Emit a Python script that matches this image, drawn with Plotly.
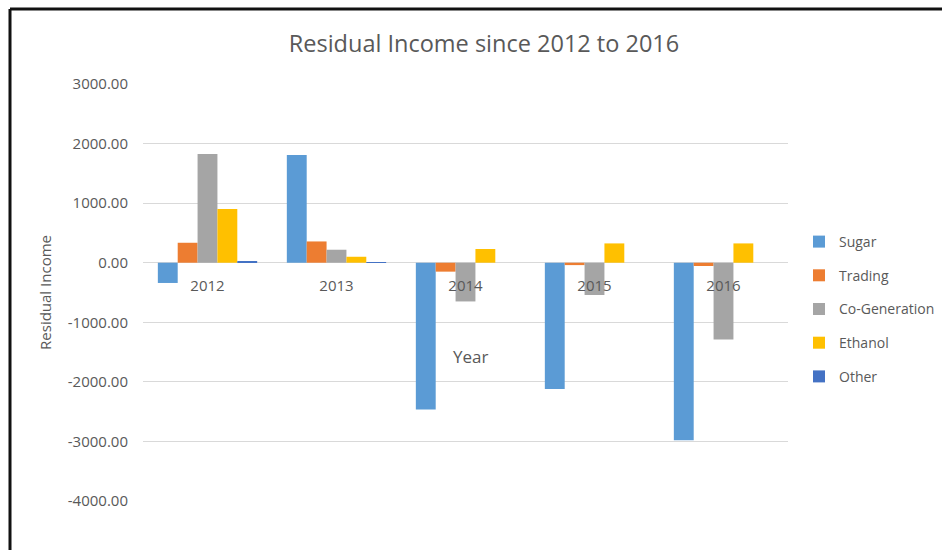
import plotly.graph_objects as go

years = ["2012", "2013", "2014", "2015", "2016"]
series_names = ["Sugar", "Trading", "Co-Generation", "Ethanol", "Other"]
sugar = [-340, 1807, -2466, -2120, -2980]
trading = [335, 357, -150, -40, -55]
cogen = [1824, 218, -650, -542, -1287]
ethanol = [900, 100, 230, 324, 324]
other = [15, 12, 0, 0, 0]
colors = ["#5B9BD5", "#ED7D31", "#A5A5A5", "#FFC000", "#4472C4"]
y_tick_values = [3000, 2000, 1000, 0, -1000, -2000, -3000, -4000]
y_tick_labels = [f"{v:.2f}" for v in y_tick_values]

FONT = "Open Sans"
GREY = "#595959"

fig = go.Figure()
for i, (name, vals) in enumerate(zip(series_names, [sugar, trading, cogen, ethanol, other])):
    fig.add_trace(go.Bar(x=years, y=vals, name=name, marker_color=colors[i],
                         marker_line_width=0, legendgroup=name))

# plot area in pixels: x 143..788, y 84..501
L, R, T, B = 143, 154, 84, 49
W, H = 942, 550
pw, ph = W - L - R, H - T - B

def px_x(p):
    return (p - L) / pw

def px_y(p):
    return (H - B - p) / ph

fig.update_layout(
    width=W, height=H,
    margin=dict(l=L, r=R, t=T, b=B, pad=0, autoexpand=False),
    paper_bgcolor="white", plot_bgcolor="white",
    font=dict(family=FONT, size=14, color=GREY),
    title=dict(text="Residual Income since 2012 to 2016", xref="container", x=484 / W,
               xanchor="center", yref="container", y=1 - 44 / H, yanchor="middle",
               font=dict(size=23.5, color=GREY, family=FONT)),
    barmode="group", bargap=0.23, bargroupgap=0,
    showlegend=True,
    legend=dict(x=px_x(799), xanchor="left", y=px_y(226), yanchor="top",
                font=dict(size=14, color=GREY, family=FONT), tracegroupgap=12.5,
                itemclick=False, bgcolor="rgba(0,0,0,0)"),
    xaxis=dict(anchor="free", position=4 / 7, showgrid=False, showline=False,
               ticks="", ticklabelstandoff=12, tickfont=dict(size=15, color=GREY),
               zeroline=False),
    yaxis=dict(range=[-4000, 3000], tickvals=y_tick_values, ticktext=y_tick_labels,
               showgrid=True,
               gridcolor="#D9D9D9", gridwidth=1, zeroline=True, zerolinecolor="#D9D9D9",
               zerolinewidth=1, showline=False, ticks="", ticklabelstandoff=14,
               tickfont=dict(size=15, color=GREY),
               title=dict(text="Residual Income", standoff=12, font=dict(size=15, color=GREY))),
)

fig.add_annotation(text="Year", xref="paper", x=px_x(470), yref="y", y=-1577,
                   showarrow=False, font=dict(size=17, color=GREY, family=FONT))

# outer frame lines (top and left edges)
fig.add_shape(type="line", xref="paper", yref="paper", x0=px_x(10), x1=px_x(942),
              y0=px_y(9), y1=px_y(9), line=dict(color="#111111", width=3))
fig.add_shape(type="line", xref="paper", yref="paper", x0=px_x(10), x1=px_x(10),
              y0=px_y(9), y1=px_y(552), line=dict(color="#111111", width=3))

fig.write_html("out.html")
